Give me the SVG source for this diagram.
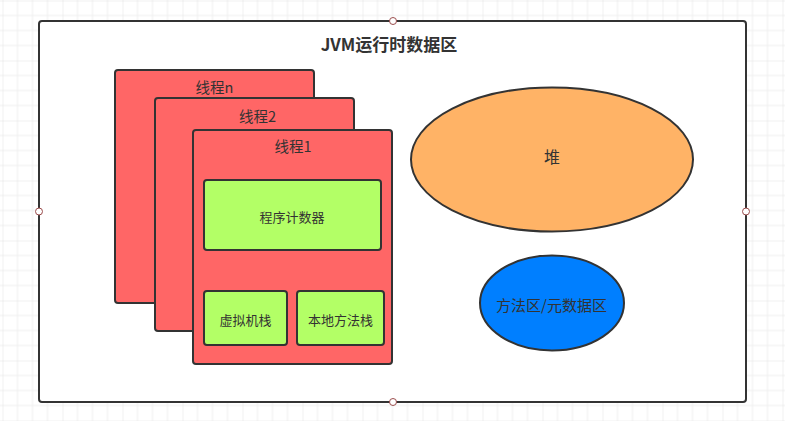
<svg xmlns="http://www.w3.org/2000/svg" width="785" height="421" viewBox="0 0 785 421">
<defs>
<pattern id="g" x="2.5" y="0.5" width="60" height="60" patternUnits="userSpaceOnUse">
<path d="M0 15H60M0 30H60M0 45H60M15 0V60M30 0V60M45 0V60" stroke="#efefef" stroke-width="1" fill="none"/>
<path d="M0 0H60M0 0V60" stroke="#e2e2e2" stroke-width="1" fill="none"/>
</pattern>
<style>
text{font-family:"Microsoft YaHei","Noto Sans CJK SC",sans-serif;fill:#333;text-anchor:middle;dominant-baseline:central}
.th{fill:#FF6666;stroke:#333;stroke-width:2}
.in{fill:#B3FF66;stroke:#333;stroke-width:2}
.h{fill:#fff;stroke:#9b4d4d;stroke-width:1}
</style>
</defs>
<rect width="785" height="421" fill="#fff"/>
<rect width="785" height="421" fill="url(#g)"/>
<g id="container">
<rect x="39" y="21" width="707" height="381" rx="3" fill="#fff" stroke="#333" stroke-width="2"/>
<text x="389" y="43" font-size="17" font-weight="bold">JVM运行时数据区</text>
</g>
<g id="threadn">
<rect class="th" x="115" y="70" width="199" height="233" rx="3"/>
<text x="214.5" y="86" font-size="14.5">线程n</text>
</g>
<g id="thread2">
<rect class="th" x="155" y="98" width="199" height="233" rx="3"/>
<text x="257.5" y="115" font-size="14.5">线程2</text>
</g>
<g id="thread1">
<rect class="th" x="193" y="130" width="199" height="234" rx="3"/>
<text x="293" y="145" font-size="14.5">线程1</text>
</g>
<g id="pc">
<rect class="in" x="204" y="180" width="177" height="70" rx="3"/>
<text x="292" y="216" font-size="13">程序计数器</text>
</g>
<g id="vmstack">
<rect class="in" x="204" y="291" width="83" height="54" rx="3"/>
<text x="245.5" y="319" font-size="13">虚拟机栈</text>
</g>
<g id="nativestack">
<rect class="in" x="297" y="291" width="87" height="54" rx="3"/>
<text x="340.5" y="319" font-size="13">本地方法栈</text>
</g>
<g id="heap">
<ellipse cx="552" cy="159.5" rx="141" ry="72" fill="#FFB366" stroke="#333" stroke-width="2"/>
<text x="552" y="156" font-size="16">堆</text>
</g>
<g id="method">
<ellipse cx="552" cy="303" rx="72" ry="47.5" fill="#007FFF" stroke="#333" stroke-width="2"/>
<text x="551.5" y="304" font-size="15">方法区/元数据区</text>
</g>
<g id="connectors"></g>
<g id="handles">
<circle class="h" cx="393" cy="21" r="3.5"/>
<circle class="h" cx="39" cy="211.5" r="3.5"/>
<circle class="h" cx="746" cy="211.5" r="3.5"/>
<circle class="h" cx="393" cy="402" r="3.5"/>
</g>
</svg>
